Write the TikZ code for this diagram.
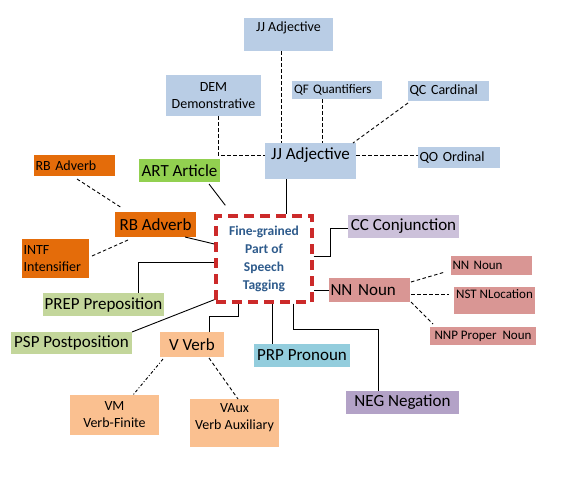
\documentclass[tikz,border=0pt]{standalone}
\usepackage{fontspec}
\setmainfont{Carlito}
\begin{document}
\begin{tikzpicture}[x=1pt,y=-1pt,
  box/.style={inner xsep=1pt,inner ysep=0pt,outer sep=0pt,text=black},
  fbig/.style={font=\fontsize{17}{19}\selectfont},
  fmid/.style={font=\fontsize{14}{17}\selectfont},
  fsml/.style={font=\fontsize{13}{15}\selectfont},
  conn/.style={line width=0.9pt,black},
  dsh/.style={line width=0.9pt,black,dash pattern=on 3.5pt off 2.5pt},
  dshdot/.style={line width=0.9pt,black,dash pattern=on 3pt off 2pt on 1pt off 2pt}]
\definecolor{cblue}{HTML}{B9CDE5}
\definecolor{corange}{HTML}{E46C0A}
\definecolor{cgreen}{HTML}{92D050}
\definecolor{colive}{HTML}{C3D69B}
\definecolor{cpeach}{HTML}{FAC090}
\definecolor{cteal}{HTML}{93CDDD}
\definecolor{clav}{HTML}{CCC1DA}
\definecolor{cpurp}{HTML}{B3A2C7}
\definecolor{crose}{HTML}{D99694}
\definecolor{cred}{HTML}{CC2A2A}
\definecolor{ctxt}{HTML}{2E5B8C}
\useasboundingbox[fill=white] (0,0) rectangle (575,479);

% adjective group
\node[box,fmid,fill=cblue,minimum width=89pt,text height=13pt,text depth=20pt,anchor=north] (jjtop) at (288.5,18) {JJ Adjective};
\node[box,fmid,fill=cblue,minimum width=95pt,minimum height=41pt,align=center] (dem) at (213.5,95.5) {DEM\\Demonstrative};
\node[box,fsml,fill=cblue,minimum width=90pt,minimum height=18pt,text width=86pt,align=left] (qf) at (337,90) {QF Quantifiers};
\node[box,fmid,fill=cblue,minimum width=81pt,minimum height=20pt,text width=78pt,align=left] (qc) at (448.5,91) {QC Cardinal};
\node[box,fbig,fill=cblue,minimum width=91pt,text height=16pt,text depth=20pt,anchor=north] (jj) at (310.5,143) {JJ Adjective};
\node[box,fmid,fill=cblue,minimum width=82pt,minimum height=21pt,text width=79pt,align=left] (qo) at (459,157.5) {QO Ordinal};

% adverbs, article
\node[box,fmid,fill=corange,minimum width=81pt,minimum height=21pt,text width=78pt,align=left] (rbs) at (74.5,165.5) {RB Adverb};
\node[box,fbig,fill=cgreen,minimum width=81pt,minimum height=23pt] (art) at (179.5,170.5) {ART Article};
\node[box,fbig,fill=corange,minimum width=81pt,minimum height=25pt] (rb) at (155.5,224.5) {RB Adverb};
\node[box,fmid,fill=corange,minimum width=67pt,minimum height=39pt,text width=64pt,align=left] (intf) at (55.5,258.5) {INTF\\Intensifier};

% centre
\node[draw=cred,line width=3.4pt,dash pattern=on 10pt off 6pt,minimum width=96pt,minimum height=86pt,inner sep=0pt,align=center,text=ctxt,font=\bfseries\fontsize{13.5}{18}\selectfont] (fg) at (264,259) {Fine-grained\\Part of\\Speech\\Tagging};

% left / bottom
\node[box,fbig,fill=colive,minimum width=121pt,minimum height=23pt] (prep) at (103.5,304.5) {PREP Preposition};
\node[box,fbig,fill=colive,minimum width=121pt,minimum height=22pt] (psp) at (71.5,343) {PSP Postposition};
\node[box,fbig,fill=cpeach,minimum width=64pt,minimum height=25pt] (v) at (192,344.5) {V Verb};
\node[box,fmid,fill=cpeach,minimum width=89pt,minimum height=40pt,align=center] (vm) at (114.5,415) {VM\\Verb-Finite};
\node[box,fmid,fill=cpeach,minimum width=89pt,minimum height=48pt,align=center] (vaux) at (234.5,423) {VAux\\Verb Auxiliary\\[-5pt]\mbox{}};
\node[box,fbig,fill=cteal,minimum width=96pt,minimum height=23pt] (prp) at (302,355.5) {PRP Pronoun};
\node[box,fbig,fill=cpurp,minimum width=113pt,minimum height=23pt] (neg) at (402.5,402.5) {NEG Negation};

% right
\node[box,fbig,fill=clav,minimum width=111pt,minimum height=23pt] (cc) at (403.5,226.5) {CC Conjunction};
\node[box,fbig,fill=crose,minimum width=81pt,minimum height=24pt,text width=78pt,align=left] (nn) at (369.5,290) {NN Noun};
\node[box,fsml,fill=crose,minimum width=81pt,minimum height=19pt,text width=78pt,align=left] (nns) at (491.5,265.5) {NN Noun};
\node[box,fsml,fill=crose,minimum width=81pt,text height=11pt,text depth=16pt,anchor=north] (nst) at (494.5,287) {NST NLocation};
\node[box,fsml,fill=crose,minimum width=106pt,minimum height=18pt] (nnp) at (483,336) {NNP Proper\ \ Noun};

% connectors: adjective group
\draw[dsh] ([xshift=-7.5pt]jjtop.south) coordinate (a1) -- (a1 |- jj.north);
\draw[dsh] ([xshift=4.5pt]dem.south) |- ([yshift=6pt]jj.west);
\draw[dsh] ([xshift=-15pt]qf.south) coordinate (a2) -- (a2 |- jj.north);
\draw[dsh] ([yshift=-2pt]qc.south west) -- ([xshift=-3pt]jj.north east);
\draw[dsh] ([yshift=6pt]jj.east) coordinate (a3) -- (a3 -| qo.west);
\draw[conn] ([xshift=-24.5pt]jj.south) coordinate (a4) -- (a4 |- fg.north);

% left side
\draw[conn] ([xshift=29.5pt,yshift=-2pt]art.south) -- ([xshift=11pt,yshift=9pt]fg.north west);
\draw[dsh] ([xshift=2.5pt,yshift=-3pt]rbs.south) -- ([xshift=7pt,yshift=4pt]rb.north west);
\draw[conn] ([xshift=-11pt]rb.south east) -- ([yshift=15pt]fg.west);
\draw[dsh] ([xshift=3pt,yshift=2.5pt]intf.east) -- ([xshift=13pt,yshift=-3pt]rb.south west);
\draw[conn] ([xshift=34.5pt]prep.north) |- ([yshift=-3pt]fg.west);
\draw[conn] (psp.north east) -- ([yshift=4pt]fg.south west);

% bottom
\draw[conn] ([xshift=17pt]v.north) -- ++(0,-16) -| ([xshift=-26pt]fg.south);
\draw[dshdot] ([xshift=3pt,yshift=-2pt]v.south west) -- ([xshift=18.5pt]vm.north);
\draw[dsh] ([xshift=17pt,yshift=-1pt]v.south) -- ([xshift=3.5pt]vaux.north);
\draw[conn] ([xshift=8pt]fg.south) coordinate (b1) -- (b1 |- prp.north);
\draw[conn] ([xshift=29pt]fg.south) -- ++(0,26) -| ([xshift=-24.5pt]neg.north);

% right side
\draw[conn] ([yshift=3pt]fg.east) -- ++(17,0) |- ([yshift=-1.5pt]cc.west);
\draw[conn] (nn.west) -- (nn.west -| fg.east);
\draw[dsh] ([xshift=1pt,yshift=8pt]nn.east) -- ([xshift=-6pt,yshift=-6.5pt]nns.west);
\draw[dsh] ([xshift=1pt,yshift=-4pt]nn.east) coordinate (c1) -- ([xshift=-5pt]c1 -| nst.west);
\draw[dsh] ([xshift=1pt]nn.south east) -- ([xshift=3pt,yshift=3pt]nnp.north west);
\end{tikzpicture}
\end{document}
